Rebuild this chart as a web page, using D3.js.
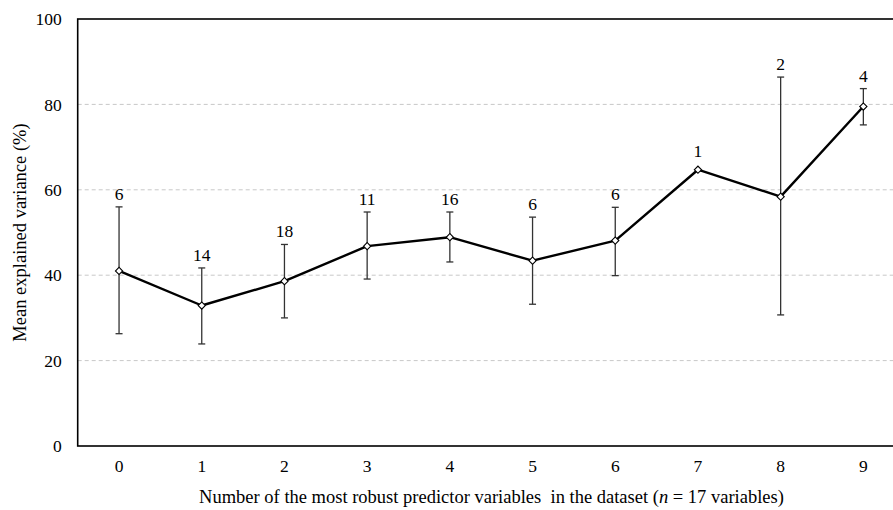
<!DOCTYPE html>
<html><head><meta charset="utf-8">
<script src="https://cdn.jsdelivr.net/npm/d3@7"></script>
<style>body{margin:0;background:#fff;}svg{display:block;}</style>
</head><body>
<script>
const categories = ["0","1","2","3","4","5","6","7","8","9"];
const means = [41.0, 32.9, 38.6, 46.8, 48.9, 43.4, 48.1, 64.7, 58.4, 79.5];
const upper = [56.0, 41.7, 47.2, 54.8, 54.8, 53.6, 55.9, null, 86.4, 83.7];
const lower = [26.3, 23.9, 30.0, 39.1, 43.1, 33.2, 39.9, null, 30.7, 75.2];
const counts = ["6","14","18","11","16","6","6","1","2","4"];
const yTicks = [0, 20, 40, 60, 80, 100];

(function () {
const W = 893, H = 510;
const pL = 77.7, pR = 904.7, pT = 19, pB = 446;
const svg = d3.select("body").append("svg").attr("width", W).attr("height", H);
const font = "'Liberation Serif', 'Times New Roman', serif";
const fs = 17.5;

const x = d3.scaleBand().domain(categories).range([pL, pR]);
const y = d3.scaleLinear().domain([0, 100]).range([pB, pT]);
const cx = c => x(c) + x.bandwidth() / 2;

// gridlines
svg.append("g").selectAll("line").data(yTicks.filter(t => t > 0 && t < 100)).join("line")
  .attr("x1", pL).attr("x2", pR).attr("y1", d => y(d)).attr("y2", d => y(d))
  .attr("stroke", "#c8c8c8").attr("stroke-width", 1).attr("stroke-dasharray", "4,3");

// axes frame
svg.append("rect").attr("x", pL).attr("y", pT).attr("width", pR - pL).attr("height", pB - pT)
  .attr("fill", "none").attr("stroke", "#000").attr("stroke-width", 1.6);

// y tick labels
const yAxis = d3.axisLeft(y).tickValues(yTicks).tickSize(0).tickPadding(16);
const gy = svg.append("g").attr("transform", `translate(${pL},0)`).call(yAxis);
gy.select(".domain").remove();
gy.selectAll("text").attr("font-family", font).attr("font-size", fs).attr("fill", "#000");

// x tick labels
const xAxis = d3.axisBottom(x).tickSize(0).tickPadding(14);
const gx = svg.append("g").attr("transform", `translate(0,${pB})`).call(xAxis);
gx.select(".domain").remove();
gx.selectAll("text").attr("font-family", font).attr("font-size", fs).attr("fill", "#000");

// axis titles
const xt = svg.append("text").attr("x", 491.5).attr("y", 503)
  .attr("text-anchor", "middle").attr("font-family", font).attr("font-size", 18.5).attr("fill", "#000")
  .attr("xml:space", "preserve").style("white-space", "pre");
xt.append("tspan").text("Number of the most robust predictor variables  in the dataset (");
xt.append("tspan").attr("font-style", "italic").text("n");
xt.append("tspan").text(" = 17 variables)");

svg.append("text").attr("transform", `translate(26,${(pT + pB) / 2}) rotate(-90)`)
  .attr("text-anchor", "middle").attr("font-family", font).attr("font-size", 18.5).attr("fill", "#000")
  .text("Mean explained variance (%)");

// error bars
const idx = d3.range(categories.length).filter(i => upper[i] != null);
const eb = svg.append("g").attr("stroke", "#333").attr("stroke-width", 1.3);
eb.selectAll("line.v").data(idx).join("line").attr("class", "v")
  .attr("x1", i => cx(categories[i])).attr("x2", i => cx(categories[i]))
  .attr("y1", i => y(upper[i])).attr("y2", i => y(lower[i]));
eb.selectAll("line.t").data(idx).join("line").attr("class", "t")
  .attr("x1", i => cx(categories[i]) - 3.5).attr("x2", i => cx(categories[i]) + 3.5)
  .attr("y1", i => y(upper[i])).attr("y2", i => y(upper[i]));
eb.selectAll("line.b").data(idx).join("line").attr("class", "b")
  .attr("x1", i => cx(categories[i]) - 3.5).attr("x2", i => cx(categories[i]) + 3.5)
  .attr("y1", i => y(lower[i])).attr("y2", i => y(lower[i]));

// line
const line = d3.line().x((d, i) => cx(categories[i])).y(d => y(d));
svg.append("path").datum(means).attr("d", line).attr("fill", "none")
  .attr("stroke", "#000").attr("stroke-width", 2.4).attr("stroke-linejoin", "round");

// markers (square rotated 45° = diamond)
const sym = d3.symbol().type(d3.symbolSquare).size(26);
svg.append("g").selectAll("path").data(means).join("path")
  .attr("d", sym)
  .attr("transform", (d, i) => `translate(${cx(categories[i])},${y(d)}) rotate(45)`)
  .attr("fill", "#fff").attr("stroke", "#000").attr("stroke-width", 1.1);

// count labels
svg.append("g").selectAll("text").data(counts).join("text")
  .attr("x", (d, i) => cx(categories[i]))
  .attr("y", (d, i) => upper[i] != null ? y(upper[i]) - 7 : y(means[i]) - 13)
  .attr("text-anchor", "middle").attr("font-family", font).attr("font-size", fs).attr("fill", "#000")
  .text(d => d);
})();
</script>
</body></html>
